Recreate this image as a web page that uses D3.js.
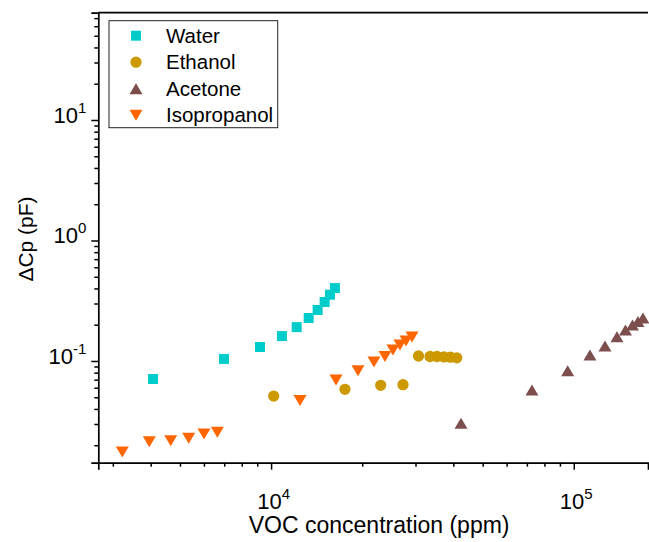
<!DOCTYPE html>
<html>
<head>
<meta charset="utf-8">
<script src="https://cdn.jsdelivr.net/npm/d3@7"></script>
<style>
  body { margin: 0; background: #fff; }
  text { font-family: "Liberation Sans", Arial, sans-serif; fill: #000; }
</style>
</head>
<body>
<script>
// data (ppm, pF)
const waterX = [4074, 6990, 9190, 10860, 12150, 13310, 14250, 15030, 15650, 16250];
const waterY = [0.0709, 0.104, 0.1306, 0.161, 0.191, 0.2275, 0.265, 0.309, 0.355, 0.403];

const ethanolX = [10200, 17540, 23020, 27280, 30690, 33500, 35320, 37260, 39150, 41050];
const ethanolY = [0.0512, 0.0582, 0.0628, 0.0636, 0.110, 0.109, 0.109, 0.108, 0.1075, 0.1063];

const acetoneX = [42410, 72760, 95470, 113100, 126800, 138900, 148200, 156300, 163000, 169300];
const acetoneY = [0.0304, 0.0574, 0.0831, 0.1121, 0.1332, 0.1591, 0.1808, 0.199, 0.2127, 0.2274];

const isoX = [3224, 3959, 4660, 5343, 6001, 6643, 12460, 16385, 19370, 21870, 23780, 25270, 26650, 27900, 29210];
const isoY = [0.01758, 0.0214, 0.02181, 0.02283, 0.02479, 0.0256, 0.04701, 0.06953, 0.08309, 0.0981, 0.109, 0.1234, 0.1358, 0.1466, 0.1582];

const seriesNames = ['Water', 'Ethanol', 'Acetone', 'Isopropanol'];
const xMajor = [1e4, 1e5];
const yMajor = [0.1, 1, 10];

const W = 649, H = 542;
const margin = {top: 12.7, right: 1, bottom: 79.3, left: 98.3};
const width = W - margin.left - margin.right;
const height = H - margin.top - margin.bottom;

// marker shapes, centred on their bounding box like the original
const triUp = {draw(ctx, s) { ctx.moveTo(-6.5, 5.5); ctx.lineTo(6.5, 5.5); ctx.lineTo(0, -5.5); ctx.closePath(); }};
const triDown = {draw(ctx, s) { ctx.moveTo(-6.5, -5.5); ctx.lineTo(6.5, -5.5); ctx.lineTo(0, 5.5); ctx.closePath(); }};

const series = [
  {name: seriesNames[0], xs: waterX, ys: waterY, color: '#00CCCC', type: d3.symbolSquare, size: 100},
  {name: seriesNames[1], xs: ethanolX, ys: ethanolY, color: '#CC9900', type: d3.symbolCircle, size: 100},
  {name: seriesNames[2], xs: acetoneX, ys: acetoneY, color: '#7D4E4E', type: triUp, size: 0},
  {name: seriesNames[3], xs: isoX, ys: isoY, color: '#FF6600', type: triDown, size: 0}
];

const svg = d3.select('body').append('svg')
  .attr('width', W)
  .attr('height', H);

const g = svg.append('g')
  .attr('transform', `translate(${margin.left},${margin.top})`);

const xScale = d3.scaleLog().domain([2686, 175900]).range([0, width]);
const yScale = d3.scaleLog().domain([0.01432, 77.7]).range([height, 0]);

// minor ticks 2..9 within the domain
function minors(scale) {
  const [a, b] = scale.domain();
  const out = [];
  for (let e = Math.floor(Math.log10(a)); e <= Math.ceil(Math.log10(b)); e++) {
    for (let m = 2; m <= 9; m++) {
      const v = m * Math.pow(10, e);
      if (v >= a && v <= b) out.push(v);
    }
  }
  return out;
}

function superLabel(sel, v) {
  const e = Math.round(Math.log10(v));
  sel.text(null);
  sel.append('tspan').text('10');
  sel.append('tspan').attr('font-size', 15).attr('dy', -10).text(e);
}

// x axis
const xMinor = g.append('g').attr('transform', `translate(0,${height})`)
  .call(d3.axisBottom(xScale).tickValues(minors(xScale)).tickSize(4).tickFormat(''));
const xAxis = g.append('g').attr('transform', `translate(0,${height})`)
  .call(d3.axisBottom(xScale).tickValues(xMajor).tickSize(7).tickPadding(24));
xAxis.selectAll('text').attr('font-size', 22).attr('dx', 2)
  .each(function(d) { superLabel(d3.select(this), d); });

// y axis
const yMinor = g.append('g')
  .call(d3.axisLeft(yScale).tickValues(minors(yScale)).tickSize(4).tickFormat(''));
const yAxis = g.append('g')
  .call(d3.axisLeft(yScale).tickValues(yMajor).tickSize(7).tickPadding(5));
yAxis.selectAll('text').attr('font-size', 22).attr('dy', '0.1em')
  .each(function(d) { superLabel(d3.select(this), d); });

g.selectAll('.domain').attr('stroke', '#000').attr('stroke-width', 1.7);
g.selectAll('.tick line').attr('stroke', '#000').attr('stroke-width', 1.5);
xMinor.select('.domain').remove();
yMinor.select('.domain').remove();

// top frame line
g.append('line')
  .attr('x1', 0).attr('x2', width)
  .attr('y1', 0).attr('y2', 0)
  .attr('stroke', '#000').attr('stroke-width', 1.7);

// axis titles
svg.append('text')
  .attr('x', margin.left + width / 2 + 6)
  .attr('y', 533)
  .attr('text-anchor', 'middle')
  .attr('font-size', 23)
  .text('VOC concentration (ppm)');

svg.append('text')
  .attr('transform', 'translate(33,239) rotate(-90)')
  .attr('text-anchor', 'middle')
  .attr('font-size', 21)
  .text('ΔCp (pF)');

// points
series.forEach(s => {
  const sym = d3.symbol().type(s.type).size(s.size);
  g.append('g').selectAll('path')
    .data(s.xs.map((x, i) => [x, s.ys[i]]))
    .join('path')
    .attr('d', sym)
    .attr('transform', d => `translate(${xScale(d[0])},${yScale(d[1])})`)
    .attr('fill', s.color);
});

// legend
const legend = svg.append('g').attr('transform', 'translate(109,20.7)');
legend.append('rect')
  .attr('width', 168.7).attr('height', 107)
  .attr('fill', '#fff')
  .attr('stroke', '#222').attr('stroke-width', 1);

series.forEach((s, i) => {
  const row = legend.append('g').attr('transform', `translate(0,${15 + i * 26.5})`);
  row.append('path')
    .attr('d', d3.symbol().type(s.type).size(s.size))
    .attr('transform', 'translate(27,0)')
    .attr('fill', s.color);
  row.append('text')
    .attr('x', 57).attr('y', 7)
    .attr('font-size', 20.5)
    .text(s.name);
});
</script>
</body>
</html>
